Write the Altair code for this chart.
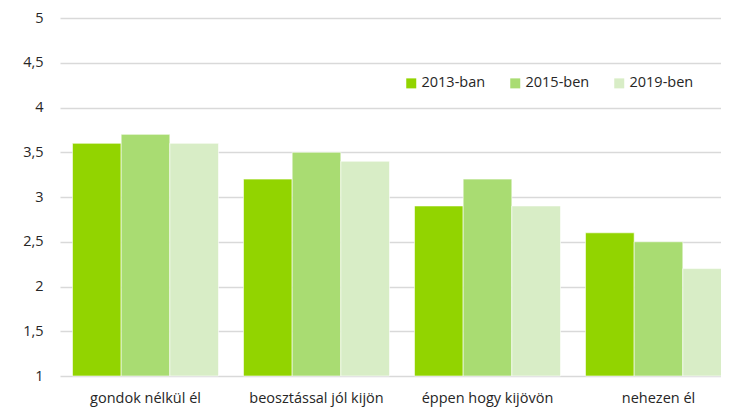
import altair as alt
import pandas as pd

categories = ["gondok nélkül él", "beosztással jól kijön", "éppen hogy kijövön", "nehezen él"]
years = ["2013-ban", "2015-ben", "2019-ben"]
v2013 = [3.6, 3.2, 2.9, 2.6]
v2015 = [3.7, 3.5, 3.2, 2.5]
v2019 = [3.6, 3.4, 2.9, 2.2]
colors = ["#92D400", "#A9DC72", "#D8EDC6"]
y_ticks = [1, 1.5, 2, 2.5, 3, 3.5, 4, 4.5, 5]

rows = []
for yr, vals in zip(years, [v2013, v2015, v2019]):
    for c, v in zip(categories, vals):
        rows.append({"cat": c, "year": yr, "value": v})
df = pd.DataFrame(rows)

FONT = "Open Sans"
TXT = "#262626"

chart = alt.Chart(df).mark_bar(stroke="white", strokeWidth=0.6).encode(
    x=alt.X(
        "cat:N", sort=categories,
        scale=alt.Scale(paddingInner=0.146, paddingOuter=0.073),
        axis=alt.Axis(title=None, labelAngle=0, domain=False, ticks=False, grid=False,
                      labelPadding=15, labelFontSize=14.5, labelColor=TXT, labelFont=FONT),
    ),
    xOffset=alt.XOffset("year:N", sort=years, scale=alt.Scale(paddingInner=0, paddingOuter=0)),
    y=alt.Y(
        "value:Q",
        scale=alt.Scale(domain=[1, 5], zero=False, nice=False),
        axis=alt.Axis(title=None, values=y_ticks, domain=False, ticks=False,
                      labelExpr="replace(format(datum.value, ''), '.', ',')",
                      labelPadding=17, labelFontSize=14.5, labelColor=TXT, labelFont=FONT,
                      gridColor="#d9d9d9", gridWidth=1.5),
    ),
    y2=alt.datum(1),
    color=alt.Color(
        "year:N", sort=years,
        scale=alt.Scale(domain=years, range=colors),
        legend=alt.Legend(title=None, orient="none", legendX=344, legendY=58,
                          direction="horizontal", symbolType="square", symbolSize=100,
                          symbolStrokeWidth=0, labelFontSize=14.5, labelFont=FONT,
                          labelColor=TXT, columnPadding=22, labelOffset=3),
    ),
).properties(
    width=684, height=358,
    autosize=alt.AutoSizeParams(type="none"),
    padding={"left": 52, "top": 10, "right": -23, "bottom": 32},
).configure_view(stroke=None)

chart.save("out.html", embed_options={"renderer": "svg", "actions": False})
